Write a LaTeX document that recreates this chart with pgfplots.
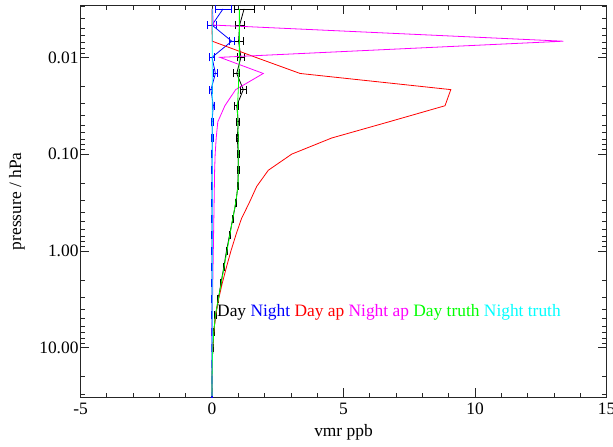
\documentclass[border=0pt]{standalone}
\usepackage{fontspec}
\setmainfont{Liberation Serif}
\usepackage{pgfplots}
\pgfplotsset{compat=1.18}
\definecolor{cBlue}{RGB}{0,0,255}
\definecolor{cRed}{RGB}{255,0,0}
\definecolor{cMag}{RGB}{255,0,255}
\definecolor{cGreen}{RGB}{0,255,0}
\definecolor{cCyan}{RGB}{0,255,255}
\begin{document}
\begin{tikzpicture}[font=\fontsize{17.4}{21}\selectfont]
\begin{axis}[
  at={(0,0)}, anchor=south west,
  scale only axis, width=526pt, height=392pt,
  xmin=-5, xmax=15, ymin=0.0029, ymax=32.5,
  ymode=log, y dir=reverse,
  xtick={-5,0,5,10,15}, xticklabels={-5,0,5,10,15},
  minor x tick num=4,
  ytick={0.01,0.1,1,10}, yticklabels={0.01,0.10,1.00,10.00},
  minor ytick={0.003,0.004,0.005,0.006,0.007,0.008,0.009,0.02,0.03,0.04,0.05,0.06,0.07,0.08,0.09,0.2,0.3,0.4,0.5,0.6,0.7,0.8,0.9,2,3,4,5,6,7,8,9,20,30},
  tick align=inside, major tick length=9pt, minor tick length=4.5pt,
  axis line style={line width=0.8pt, black!85},
  every tick/.style={line width=0.8pt, black!85},
  xticklabel style={yshift=-2pt},
  yticklabel style={xshift=1.5pt},
  xlabel={vmr ppb}, ylabel={pressure / hPa},
  xlabel style={at={(axis description cs:0.5,0)}, anchor=base, yshift=-39.5pt},
  ylabel style={at={(axis description cs:-0.1207,0.5)}, anchor=center},
  error bars/error bar style={line width=0.8pt},
  error bars/error mark options={rotate=90, mark size=4pt, line width=0.8pt},
]
% Day
\addplot[black, line width=0.8pt, mark=none, error bars/.cd, x dir=both, x explicit] coordinates {
(1.22,0.003162) +- (0.38,0)
(1.05,0.004642) +- (0.17,0)
(1.01,0.006813) +- (0.17,0)
(1.10,0.01) +- (0.13,0)
(0.94,0.014678) +- (0.11,0)
(1.19,0.021544) +- (0.11,0)
(0.94,0.031623) +- (0.08,0)
(1.00,0.046416) +- (0.06,0)
(0.96,0.068129) +- (0.05,0)
(1.00,0.1) +- (0.04,0)
(1.00,0.14678) +- (0.03,0)
(0.98,0.215443) +- (0.03,0)
(0.91,0.316228) +- (0.03,0)
(0.79,0.464159) +- (0.02,0)
(0.67,0.681292) +- (0.02,0)
(0.55,1.0) +- (0.02,0)
(0.45,1.467799) +- (0.02,0)
(0.34,2.154435) +- (0.02,0)
(0.24,3.162278) +- (0.02,0)
(0.13,4.641589) +- (0.02,0)
(0.07,6.812921) +- (0.01,0)
(0.03,10) +- (0.01,0)
(0.01,14.677993) +- (0.01,0)
(0.00,21.544347) +- (0.01,0)
(0.00,31.622777) +- (0.01,0)
};
% Night
\addplot[cBlue, line width=0.8pt, mark=none, error bars/.cd, x dir=both, x explicit] coordinates {
(0.42,0.003162) +- (0.30,0)
(0.00,0.004642) +- (0.17,0)
(0.75,0.006813) +- (0.10,0)
(0.00,0.01) +- (0.10,0)
(0.13,0.014678) +- (0.08,0)
(-0.04,0.021544) +- (0.05,0)
(0.05,0.031623) +- (0.05,0)
(0.00,0.046416) +- (0.04,0)
(0.02,0.068129) +- (0.03,0)
(0.00,0.1) +- (0.03,0)
(0.00,0.14678) +- (0.02,0)
(0.00,0.215443) +- (0.02,0)
(0.00,0.316228) +- (0.02,0)
(0.00,0.464159) +- (0.02,0)
(0.00,0.681292) +- (0.02,0)
(0.00,1.0) +- (0.02,0)
(0.00,1.467799) +- (0.02,0)
(0.00,2.154435) +- (0.02,0)
(0.00,3.162278) +- (0.02,0)
(0.00,4.641589) +- (0.02,0)
(0.00,6.812921) +- (0.02,0)
(0.00,10) +- (0.02,0)
(0.00,14.677993) +- (0.02,0)
(0.00,21.544347) +- (0.02,0)
(0.00,31.622777) +- (0.02,0)
};
% Day ap
\addplot[cRed, line width=0.8pt, mark=none] coordinates {
(0.00,0.003162) (0.00,0.004642) (0.01,0.006813) (1.66,0.01) (3.35,0.014678)
(9.08,0.021544) (8.86,0.031623) (6.72,0.046416) (4.55,0.068129) (3.03,0.1)
(2.14,0.14678) (1.70,0.215443) (1.42,0.316228) (1.12,0.464159) (0.91,0.681292)
(0.72,1.0) (0.55,1.467799) (0.39,2.154435) (0.25,3.162278) (0.14,4.641589)
(0.07,6.812921) (0.03,10) (0.01,14.677993) (0.00,21.544347) (0.00,31.622777)
};
% Night ap
\addplot[cMag, line width=0.8pt, mark=none] coordinates {
(0.02,0.003162) (0.05,0.004642) (13.36,0.006813) (0.30,0.01) (1.95,0.014678)
(0.90,0.021544) (0.49,0.031623) (0.22,0.046416) (0.16,0.068129) (0.12,0.1)
(0.10,0.14678) (0.09,0.215443) (0.08,0.316228) (0.07,0.464159) (0.06,0.681292)
(0.05,1.0) (0.04,1.467799) (0.03,2.154435) (0.02,3.162278) (0.01,4.641589)
(0.00,6.812921) (0.00,10) (0.00,14.677993) (0.00,21.544347) (0.00,31.622777)
};
% Day truth
\addplot[cGreen, line width=0.8pt, mark=none] coordinates {
(1.04,0.003162) (1.04,0.004642) (1.04,0.006813) (1.04,0.01) (1.02,0.014678)
(1.00,0.021544) (0.97,0.031623) (0.98,0.046416) (1.00,0.068129) (1.00,0.1)
(1.00,0.14678) (0.99,0.215443) (0.90,0.316228) (0.79,0.464159) (0.68,0.681292)
(0.57,1.0) (0.46,1.467799) (0.35,2.154435) (0.24,3.162278) (0.13,4.641589)
(0.07,6.812921) (0.03,10) (0.01,14.677993) (0.00,21.544347) (0.00,31.622777)
};
% Night truth
\addplot[cCyan, line width=0.8pt, mark=none] coordinates {
(0.01,0.003162) (0.01,0.004642) (0.01,0.006813) (0.01,0.01) (0.01,0.014678)
(0.01,0.021544) (0.01,0.031623) (0.01,0.046416) (0.01,0.068129) (0.01,0.1)
(0.01,0.14678) (0.01,0.215443) (0.01,0.316228) (0.01,0.464159) (0.01,0.681292)
(0.01,1.0) (0.01,1.467799) (0.01,2.154435) (0.01,3.162278) (0.01,4.641589)
(0.01,6.812921) (0.00,10) (0.00,14.677993) (0.00,21.544347) (0.00,31.622777)
};
\node[anchor=west, inner sep=0pt] at (axis cs:0.19,4.28) {Day \textcolor{cBlue}{Night} \textcolor{cRed}{Day ap} \textcolor{cMag}{Night ap} \textcolor{cGreen}{Day truth} \textcolor{cCyan}{Night truth}};
\end{axis}
\pgfresetboundingbox
\path[use as bounding box] (-80.5pt,-49.7pt) rectangle (532.5pt,397.3pt);
\end{tikzpicture}
\end{document}
